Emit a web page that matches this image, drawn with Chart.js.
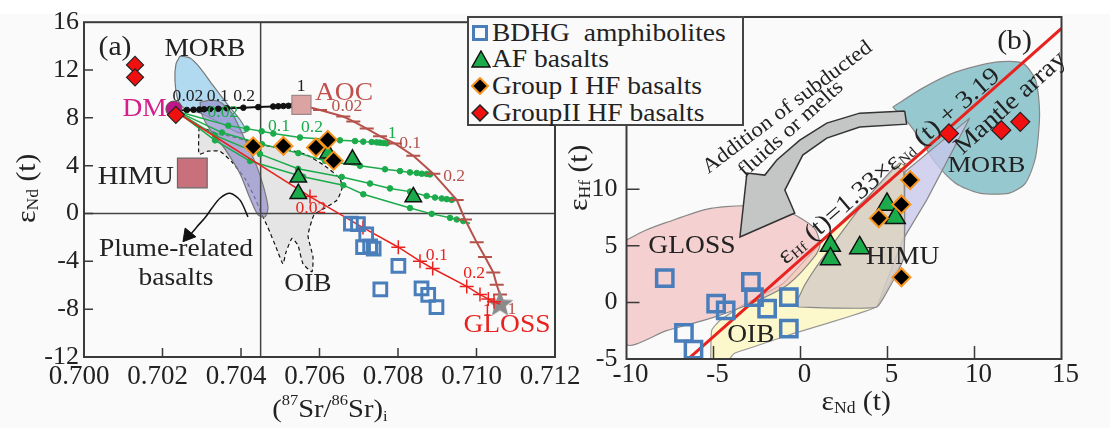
<!DOCTYPE html>
<html>
<head>
<meta charset="utf-8">
<script src="https://cdn.jsdelivr.net/npm/chart.js@4.4.1/dist/chart.umd.min.js"></script>
<style>
  html, body { margin: 0; padding: 0; background: #fff; }
  #fig { position: relative; width: 1110px; height: 428px; overflow: hidden; }
  #bg { position: absolute; left: 0; top: 14px; width: 1110px; height: 414px; background: #fafafa; }
  canvas { position: absolute; top: 0; }
  #chartA { left: 0; }
  #chartB { left: 560px; }
  #legend { position: absolute; left: 467px; top: 16px; width: 273px; height: 106px; border: 2px solid #444;
            background: #fafafa; font-family: 'Liberation Serif', 'DejaVu Serif', serif; font-size: 25px; color: #222; z-index: 5; }
  .row { position: absolute; left: 0; height: 27px; line-height: 27px; white-space: nowrap; }
  .row svg { position: absolute; left: 2px; top: 5px; }
  .row span { position: absolute; left: 23px; transform: scaleX(1.1); transform-origin: left center; }
</style>
</head>
<body>
<div id="fig">
  <div id="bg"></div>
  <canvas id="chartA" width="600" height="428"></canvas>
  <canvas id="chartB" width="550" height="428"></canvas>
  <div id="legend">
    <div class="row" style="top:1px"><svg width="18" height="18"><rect x="2.5" y="2.5" width="13" height="13" fill="none" stroke="#4a7ebb" stroke-width="3"/></svg><span>BDHG&nbsp; amphibolites</span></div>
    <div class="row" style="top:27px"><svg width="20" height="18"><polygon points="10,1 19,17 1,17" fill="#1bab4b" stroke="#111" stroke-width="1.5"/></svg><span>AF basalts</span></div>
    <div class="row" style="top:54px"><svg width="20" height="18"><polygon points="9,1 17,9 9,17 1,9" fill="#000" stroke="#f7941d" stroke-width="2"/></svg><span>Group I HF basalts</span></div>
    <div class="row" style="top:81px"><svg width="20" height="18"><polygon points="9,1 17,9 9,17 1,9" fill="#f01010" stroke="#222" stroke-width="1.5"/></svg><span>GroupII HF basalts</span></div>
  </div>
</div>
<script>
// ---------- panel (a): (87Sr/86Sr)i vs eNd(t) ----------
const srTicks = [0.700, 0.702, 0.704, 0.706, 0.708, 0.710, 0.712];
const ndTicksA = [-12, -8, -4, 0, 4, 8, 12, 16];

const bdhgSr = [0.70680, 0.70698, 0.70719, 0.70711, 0.70729, 0.70738, 0.70801, 0.70755, 0.70860, 0.70877, 0.70898];
const bdhgNdA = [-0.85, -0.89, -1.75, -2.82, -2.74, -2.94, -4.38, -6.35, -6.26, -6.80, -7.82];
const afSr = [0.70622, 0.70684, 0.70546, 0.70546, 0.70839];
const afNdA = [5.05, 4.53, 3.03, 1.66, 1.39];
const g1Sr = [0.70431, 0.70508, 0.70591, 0.70621, 0.70636];
const g1NdA = [5.61, 5.65, 5.52, 6.16, 4.42];
const g2Sr = [0.70130, 0.70130, 0.70234];
const g2NdA = [12.43, 11.39, 8.25];

const dmSr = [0.70229], dmNd = [8.74];
const aocSr = [0.70554], aocNd = [9.09];
const glossSr = [0.71060], glossNd = [-7.60];
const himuSr = [0.70276], himuNd = [3.39];

// DM - AOC mixing (black)
const mixAocSr = [0.70234, 0.70262, 0.70279, 0.70294, 0.70306, 0.70321, 0.70342, 0.70364, 0.70406, 0.70444, 0.70482, 0.70495, 0.70508, 0.70521, 0.70533, 0.70545, 0.70553];
const mixAocNd = [8.60, 8.66, 8.68, 8.70, 8.72, 8.74, 8.76, 8.80, 8.85, 8.90, 8.95, 8.97, 8.99, 9.01, 9.03, 9.05, 9.07];
// DM - GLOSS mixing (red)
const mixGlossSr = [0.702344, 0.705758, 0.707108, 0.708008, 0.708561, 0.708884, 0.709751, 0.710089, 0.710301, 0.710446, 0.710599];
const mixGlossNd = [8.49, 1.42, -1.18, -2.82, -3.99, -4.60, -6.10, -6.78, -7.14, -7.37, -7.60];
// AOC - GLOSS mixing (brown)
const aocGlossSr = [0.705529, 0.706013, 0.706606, 0.706861, 0.707203, 0.707541, 0.707924, 0.708390, 0.708900, 0.709496, 0.709707, 0.710005, 0.710217, 0.710428, 0.710515, 0.710599, 0.710599];
const aocGlossNd = [9.07, 8.66, 8.11, 7.70, 7.10, 6.47, 5.85, 4.83, 3.33, 1.14, -0.50, -2.41, -3.64, -4.93, -5.96, -6.78, -7.60];
// DM - (AOC+GLOSS) mixing (green)
const green1Sr = [0.702344, 0.703676, 0.704145, 0.704527, 0.704823, 0.705503, 0.706522, 0.706904, 0.707116, 0.707330, 0.707457, 0.707541, 0.707626, 0.707712, 0.707840];
const green1Nd = [8.58, 7.35, 7.10, 6.88, 6.69, 6.36, 6.12, 6.06, 6.01, 5.98, 5.95, 5.93, 5.90, 5.87, 5.85];
const green2Sr = [0.702344, 0.703516, 0.704535, 0.705460, 0.706140, 0.707032, 0.707669, 0.708051, 0.708306, 0.708477, 0.708604, 0.708732, 0.708816, 0.708900];
const green2Nd = [8.58, 6.77, 5.79, 5.05, 4.42, 3.99, 3.70, 3.55, 3.44, 3.39, 3.33, 3.31, 3.27, 3.25];
const green3Sr = [0.702344, 0.703338, 0.704484, 0.705452, 0.706566, 0.707287, 0.707796, 0.708306, 0.708731, 0.708943, 0.709114, 0.709241, 0.709369, 0.709537];
const green3Nd = [8.58, 6.53, 4.97, 3.74, 3.06, 2.51, 2.10, 1.83, 1.47, 1.34, 1.26, 1.20, 1.14, 1.06];
const green4Sr = [0.702344, 0.703338, 0.704229, 0.705580, 0.706607, 0.707116, 0.708306, 0.708859, 0.709325, 0.709496, 0.709664, 0.709835];
const green4Nd = [8.58, 6.12, 4.39, 3.08, 2.37, 1.61, 0.46, -0.03, -0.36, -0.50, -0.63, -0.83];

// fields
const morbFieldSr = [0.702446, 0.702701, 0.702955, 0.703287, 0.703669, 0.703975, 0.704127, 0.703924, 0.703465, 0.702955, 0.702573, 0.702395, 0.702318, 0.702344, 0.702446];
const morbFieldNd = [13.17, 13.00, 12.18, 10.71, 9.07, 7.84, 6.85, 6.77, 7.59, 8.41, 8.74, 9.48, 11.12, 12.51, 13.17];
const plumeSr = [0.702955, 0.703261, 0.703516, 0.703796, 0.704153, 0.704408, 0.704586, 0.704688, 0.704612, 0.704433, 0.704229, 0.703975, 0.703592, 0.703210, 0.703006, 0.702955];
const plumeNd = [9.31, 9.48, 9.23, 8.25, 5.79, 3.90, 2.10, 0.46, -0.28, -0.11, 1.28, 3.33, 5.38, 7.02, 8.25, 9.31];
const oibFieldSr = [0.702930, 0.703338, 0.703847, 0.704484, 0.705121, 0.705631, 0.706140, 0.706522, 0.706573, 0.706446, 0.706140, 0.705860, 0.705707, 0.705834, 0.705809, 0.705580, 0.705452, 0.705299, 0.705147, 0.705070, 0.704892, 0.704688, 0.704535, 0.704357, 0.704102, 0.703771, 0.703465, 0.703159, 0.702930, 0.702930];
const oibFieldNd = [7.27, 6.77, 6.36, 5.79, 5.38, 4.97, 3.98, 2.92, 2.10, 1.12, 0.46, -0.11, -1.84, -3.64, -4.87, -4.21, -2.66, -2.08, -3.23, -4.21, -2.82, -1.18, -0.11, 1.28, 2.92, 4.31, 5.21, 5.21, 4.97, 7.27];
const plumeArrowSr = [0.704178, 0.703975, 0.703720, 0.703465, 0.703261, 0.703083, 0.702879, 0.702675];
const plumeArrowNd = [-0.28, 1.12, 1.69, 1.28, 0.46, -0.36, -1.10, -1.92];

// ---------- panel (b): eNd(t) vs eHf(t) ----------
const ndTicksB = [-10, -5, 0, 5, 10, 15];
const hfTicksB = [-5, 0, 5, 10];

const bdhgNdB = [-7.80, -2.85, -4.85, -4.30, -2.67, -1.92, -0.67, -0.67, -6.70, -6.15];
const bdhgHf = [2.15, 1.80, -0.12, -0.70, 0.47, -0.55, 0.47, -2.32, -2.70, -4.17];
const afNdB = [1.72, 1.72, 3.40, 4.97, 5.45];
const afHf = [5.02, 3.84, 4.81, 8.65, 7.47];
const g1NdB = [6.30, 5.80, 4.50, 5.80];
const g1Hf = [10.80, 8.65, 7.43, 2.22];
const g2NdB = [8.53, 11.54, 12.63];
const g2Hf = [14.92, 15.21, 15.94];

const arrayNd = [-6.6, 15.0];
const arrayHf = [-5.2, 24.2];

const morbNdB = [5.30, 7.02, 8.91, 11.21, 12.76, 13.51, 13.74, 13.51, 12.93, 12.01, 10.29, 8.91, 7.77, 7.02, 6.16, 5.30];
const morbHfB = [17.24, 18.92, 20.33, 21.21, 21.13, 19.62, 16.71, 12.83, 10.53, 9.65, 9.65, 10.53, 12.30, 14.06, 15.92, 17.24];
const lavNd = [9.72, 5.99, 5.93, 4.38, 5.87, 7.25, 9.72];
const lavHf = [16.27, 11.50, 3.91, -0.41, 5.50, 9.03, 16.27];
const himuNdB = [-0.16, 4.38, 5.93, 5.93, 5.47, 3.98, 2.54, 1.10, 0.24, -0.16, -0.16];
const himuHfB = [-0.41, -0.41, 3.91, 11.50, 12.03, 9.47, 6.56, 3.56, 1.53, 0.21, -0.41];
const oibNdB = [-5.16, -5.10, -4.60, -3.20, -1.04, 0.40, 2.01, 3.63, 4.71, 5.70, 6.00, 5.93, 4.88, 4.40, 1.53, -0.38, -2.68, -3.82, -4.21, -5.16];
const oibHfB = [-5.20, -2.45, -1.56, -0.15, 1.62, 3.97, 6.62, 8.97, 10.60, 12.30, 12.00, 4.63, 0.80, -0.38, -1.86, -2.74, -3.92, -4.51, -5.20, -5.20];
const glossNdB = [-10.0, -9.0, -7.70, -5.36, -3.20, -0.86, 0.76, 1.12, 0.85, -0.68, -2.48, -5.00, -7.70, -10.0, -10.0];
const glossHfB = [5.50, 6.30, 7.06, 8.24, 8.53, 8.09, 6.62, 5.15, 4.12, 1.62, 0.15, -1.32, -2.50, -3.68, 5.50];
const fluxArrowNd = [5.99, 3.40, 1.51, -0.04, -1.36, -2.05, -3.08, -3.48, -0.33, -0.90, 0.13, 1.51, 3.40, 6.10, 5.99];
const fluxArrowHf = [16.89, 16.71, 15.83, 14.33, 12.57, 11.24, 11.42, 5.77, 7.89, 9.92, 13.01, 14.51, 15.48, 15.74, 16.89];

// ---------- styling helpers ----------
const SERIF = "'Liberation Serif', 'DejaVu Serif', serif";
const INK = '#222';
const SX = 1.1;
const BLUE = '#4a7ebb', GREEN = '#1bab4b', ORANGE = '#f7941d', RED = '#f01010';
const BROWN = '#b5524c', LINE_RED = '#e8231f', MAGENTA = '#d4208b';

Chart.defaults.font.family = SERIF;
Chart.defaults.color = INK;

function xy(xs, ys) { return xs.map((v, i) => ({ x: v, y: ys[i] })); }

function drawRich(ctx, parts, x, y, o) {
  ctx.save();
  ctx.translate(x, y);
  if (o.rot) ctx.rotate(o.rot * Math.PI / 180);
  ctx.scale(o.sx || SX, 1);
  ctx.textBaseline = 'middle';
  ctx.textAlign = 'left';
  ctx.fillStyle = o.color || INK;
  let w = 0;
  parts.forEach(p => { ctx.font = p[1] + 'px ' + SERIF; w += ctx.measureText(p[0]).width; });
  let cx = o.align === 'left' ? 0 : (o.align === 'right' ? -w : -w / 2);
  parts.forEach(p => {
    ctx.font = p[1] + 'px ' + SERIF;
    ctx.fillText(p[0], cx, p[2] || 0);
    cx += ctx.measureText(p[0]).width;
  });
  ctx.restore();
}

// frame, inward ticks, tick labels, annotations and axis titles
function makeExtras(cfg) {
  return {
    id: 'extras',
    afterDatasetsDraw(chart) {
      const ctx = chart.ctx, a = chart.chartArea, sx = chart.scales.x, sy = chart.scales.y;
      ctx.save();
      ctx.strokeStyle = '#3a3a3a';
      ctx.lineWidth = 1.5;
      ctx.beginPath();
      sx.ticks.forEach(t => {
        if (t.value <= sx.min || t.value >= sx.max) return;
        const p = sx.getPixelForValue(t.value);
        ctx.moveTo(p, a.bottom); ctx.lineTo(p, a.bottom - cfg.tick);
      });
      sy.ticks.forEach(t => {
        if (t.value <= sy.min || t.value >= sy.max) return;
        const p = sy.getPixelForValue(t.value);
        ctx.moveTo(a.left, p); ctx.lineTo(a.left + cfg.tick, p);
      });
      ctx.stroke();
      ctx.lineWidth = 2;
      ctx.strokeRect(a.left, a.top, a.width, a.height);
      sx.ticks.forEach(t => drawRich(ctx, [[cfg.fmtX(t.value), 27, 0]],
        sx.getPixelForValue(t.value) + cfg.xLab.dx, a.bottom + cfg.xLab.dy, { sx: 1 }));
      sy.ticks.forEach(t => drawRich(ctx, [[String(t.value), 26, 0]],
        a.left - cfg.yLab, sy.getPixelForValue(t.value), { sx: 1, align: 'right' }));
      cfg.labels.forEach(l => {
        const parts = l.parts || [[l.t, l.size || 25, 0]];
        drawRich(ctx, parts, sx.getPixelForValue(l.x), sy.getPixelForValue(l.y), l);
      });
      cfg.titles.forEach(l => {
        if (l.kind === 'x') drawRich(ctx, l.parts, a.left + l.f * a.width, a.bottom + l.off, l);
        else drawRich(ctx, l.parts, a.left - l.off, a.top + l.f * a.height, Object.assign({ rot: -90 }, l));
      });
      ctx.restore();
    }
  };
}

function pointSet(data, style, r, fill, stroke, bw, order, rot) {
  return { data, showLine: false, pointStyle: style, pointRadius: r, pointBackgroundColor: fill,
           pointBorderColor: stroke, pointBorderWidth: bw, pointRotation: rot || 0, order };
}
function lineSet(data, color, width, markers, order) {
  const last = data.length - 1;
  return { data, showLine: true, borderColor: color, borderWidth: width, tension: 0, order,
    pointRadius: c => (c.dataIndex === 0 || c.dataIndex === last) ? 0 : markers.r,
    pointStyle: markers.style, pointBackgroundColor: markers.fill || color,
    pointBorderColor: markers.stroke || color, pointBorderWidth: markers.bw || 1 };
}
function fieldSet(data, fill, stroke, order, extra) {
  return Object.assign({ data, showLine: true, fill: 'shape', backgroundColor: fill, borderColor: stroke,
                         borderWidth: 1.2, pointRadius: 0, tension: 0.25, order }, extra || {});
}

// star image for GLOSS end-member
const star = document.createElement('canvas');
star.width = 30; star.height = 30;
(function () {
  const c = star.getContext('2d');
  c.beginPath();
  for (let i = 0; i < 10; i++) {
    const r = i % 2 ? 6 : 14, ang = -Math.PI / 2 + i * Math.PI / 5;
    c.lineTo(15 + r * Math.cos(ang), 15 + r * Math.sin(ang));
  }
  c.closePath();
  c.fillStyle = '#8a8a8a';
  c.fill();
})();

function axis(min, max, ticks, size, isX) {
  return {
    type: 'linear', min, max,
    afterBuildTicks: s => { s.ticks = ticks.map(v => ({ value: v })); },
    afterFit: s => {
      if (isX) { s.height = size; s.paddingLeft = 0; s.paddingRight = 0; }
      else { s.width = size; s.paddingTop = 0; s.paddingBottom = 0; }
    },
    grid: { display: false, drawTicks: false },
    border: { display: false },
    ticks: { display: false }
  };
}

// ---------- chart (a) ----------
const labelsA = [
  { t: '(a)', x: 0.70079, y: 13.83, size: 27 },
  { t: 'MORB', x: 0.70308, y: 13.74, size: 25 },
  { t: 'DM', x: 0.70211, y: 8.74, size: 25, color: MAGENTA, align: 'right' },
  { t: 'HIMU', x: 0.70132, y: 3.08, size: 26 },
  { t: 'AOC', x: 0.705885, y: 10.05, size: 25, color: '#c0504d', align: 'left' },
  { t: 'OIB', x: 0.705707, y: -5.94, size: 25 },
  { t: 'GLOSS', x: 0.710777, y: -9.39, size: 25, color: LINE_RED },
  { t: 'Plume-related', x: 0.702344, y: -2.98, size: 25 },
  { t: 'basalts', x: 0.702344, y: -5.44, size: 25 },
  { t: '0.02', x: 0.70265, y: 9.72, size: 16 },
  { t: '0.1', x: 0.70341, y: 9.72, size: 16 },
  { t: '0.2', x: 0.70408, y: 9.72, size: 16 },
  { t: '1', x: 0.70553, y: 10.63, size: 16 },
  { t: '0.02', x: 0.70354, y: 8.41, size: 16, color: GREEN },
  { t: '0.1', x: 0.70497, y: 7.26, size: 16, color: GREEN },
  { t: '0.2', x: 0.70581, y: 7.18, size: 16, color: GREEN },
  { t: '1', x: 0.70785, y: 6.69, size: 16, color: GREEN },
  { t: '0.02', x: 0.70670, y: 8.90, size: 16, color: BROWN },
  { t: '0.1', x: 0.70831, y: 5.79, size: 16, color: BROWN },
  { t: '0.2', x: 0.70943, y: 3.08, size: 16, color: BROWN },
  { t: '1', x: 0.71090, y: -8.07, size: 16, color: BROWN },
  { t: '0.02', x: 0.70578, y: 0.38, size: 16, color: LINE_RED },
  { t: '0.1', x: 0.70899, y: -3.56, size: 16, color: LINE_RED },
  { t: '0.2', x: 0.70994, y: -5.03, size: 16, color: LINE_RED },
  { t: '1', x: 0.71027, y: -8.15, size: 16, color: LINE_RED }
];
const titlesA = [
  { kind: 'x', f: 0.522, off: 53, parts: [['(', 26], ['87', 15, -9], ['Sr/', 26], ['86', 15, -9], ['Sr)', 26], ['i', 15, 7]] },
  { kind: 'y', f: 0.496, off: 56, parts: [['\u03b5', 27], ['Nd', 16, 6], [' (t)', 27]] }
];

const greenMark = { r: 2.8, style: 'circle' };
new Chart(document.getElementById('chartA'), {
  type: 'scatter',
  data: {
    datasets: [
      pointSet(xy(g2Sr, g2NdA), 'rectRot', 8.5, RED, '#222', 1.2, 0),
      pointSet(xy(g1Sr, g1NdA), 'rectRot', 9, '#000', ORANGE, 2, 1),
      pointSet(xy(afSr, afNdA), 'triangle', 9.5, GREEN, '#111', 1.5, 2),
      pointSet(xy(bdhgSr, bdhgNdA), 'rect', 9, 'rgba(0,0,0,0)', BLUE, 3, 3),
      pointSet(xy(dmSr, dmNd), 'circle', 8, '#c0168a', '#555', 1, 4),
      pointSet(xy(glossSr, glossNd), star, 14, '#888', '#888', 0, 6),
      pointSet(xy(aocSr, aocNd), 'rect', 13.5, '#dca3a3', '#a08888', 1.2, 6),
      pointSet(xy(himuSr, himuNd), 'rect', 21, '#c9707d', '#666', 1.2, 7),
      lineSet(xy(mixGlossSr, mixGlossNd), LINE_RED, 1.5, { r: 7, style: 'cross', bw: 1.5 }, 5),
      lineSet(xy(aocGlossSr, aocGlossNd), BROWN, 2, { r: 7, style: 'line', bw: 2 }, 8),
      lineSet(xy(green1Sr, green1Nd), GREEN, 1.5, greenMark, 9),
      lineSet(xy(green2Sr, green2Nd), GREEN, 1.5, greenMark, 9),
      lineSet(xy(green3Sr, green3Nd), GREEN, 1.5, greenMark, 9),
      lineSet(xy(green4Sr, green4Nd), GREEN, 1.5, greenMark, 9),
      lineSet(xy(mixAocSr, mixAocNd), '#111', 2, { r: 2.8, style: 'circle' }, 9),
      { data: xy(plumeArrowSr, plumeArrowNd), showLine: true, borderColor: '#111', borderWidth: 1.5,
        pointRadius: 0, tension: 0.3, order: 10 },
      pointSet(xy([0.70265], [-1.84]), 'triangle', 8, '#111', '#111', 1, 10, 219),
      { data: xy([0.7045, 0.7045], [-12, 16]), showLine: true, borderColor: '#444', borderWidth: 1.5, pointRadius: 0, order: 19 },
      { data: xy([0.700, 0.712], [0, 0]), showLine: true, borderColor: '#444', borderWidth: 1.5, pointRadius: 0, order: 19 },
      fieldSet(xy(plumeSr, plumeNd), 'rgba(150,145,205,0.72)', '#777', 20),
      fieldSet(xy(morbFieldSr, morbFieldNd), 'rgba(168,214,240,0.9)', '#777', 21),
      fieldSet(xy(oibFieldSr, oibFieldNd), 'rgba(222,222,222,0.75)', '#111', 22, { borderDash: [4, 3], tension: 0.15 })
    ]
  },
  options: {
    responsive: false, animation: false, events: [],
    layout: { padding: { left: 0, right: 45, top: 15.5, bottom: 0 } },
    scales: {
      x: axis(0.700, 0.712, srTicks, 71, true),
      y: axis(-12, 16, ndTicksA, 84, false)
    },
    plugins: { legend: { display: false }, tooltip: { enabled: false } }
  },
  plugins: [makeExtras({ tick: 9, labels: labelsA, titles: titlesA,
    fmtX: v => v.toFixed(3), xLab: { dx: -5, dy: 20 }, yLab: 5 })]
});

// ---------- chart (b) ----------
const eqParts = [['\u03b5', 25], ['Hf', 14, 5], [' (t)=1.33\u00d7', 25], ['\u03b5', 25], ['Nd', 14, 5], [' (t) + 3.19', 25]];
const labelsB = [
  { t: '(b)', x: 12.30, y: 22.98, size: 27 },
  { t: 'MORB', x: 10.69, y: 12.03, size: 24 },
  { t: 'HIMU', x: 5.87, y: 4.00, size: 25 },
  { t: 'GLOSS', x: -6.24, y: 4.97, size: 25 },
  { t: 'OIB', x: -2.85, y: -2.88, size: 25 },
  { t: 'Mantle array', x: 12.07, y: 17.59, size: 25, rot: -42 },
  { parts: eqParts, x: 5.1, y: 12.0, rot: -41, sx: 1.12 },
  { t: 'Addition of subducted', x: -0.75, y: 17.2, size: 21, rot: -37 },
  { t: 'fluids or melts', x: -0.55, y: 15.3, size: 21, rot: -42 }
];
const titlesB = [
  { kind: 'x', f: 0.528, off: 44, parts: [['\u03b5', 27], ['Nd', 16, 6], [' (t)', 27]] },
  { kind: 'y', f: 0.47, off: 47, parts: [['\u03b5', 27], ['Hf', 16, 6], [' (t)', 27]] }
];

new Chart(document.getElementById('chartB'), {
  type: 'scatter',
  data: {
    datasets: [
      pointSet(xy(g2NdB, g2Hf), 'rectRot', 9.5, RED, '#222', 1.2, 0),
      pointSet(xy(g1NdB, g1Hf), 'rectRot', 9, '#000', ORANGE, 2, 1),
      pointSet(xy(afNdB, afHf), 'triangle', 11.5, GREEN, '#111', 1.5, 2),
      pointSet(xy(bdhgNdB, bdhgHf), 'rect', 11.5, 'rgba(0,0,0,0)', BLUE, 3.5, 3),
      { data: xy(arrayNd, arrayHf), showLine: true, borderColor: LINE_RED, borderWidth: 3, pointRadius: 0, order: 5 },
      fieldSet(xy(fluxArrowNd, fluxArrowHf), '#c3c6c4', '#333', 8, { tension: 0, borderWidth: 1.5 }),
      fieldSet(xy(glossNdB, glossHfB), 'rgba(240,182,182,0.62)', '#888', 14),
      fieldSet(xy(himuNdB, himuHfB), 'rgba(214,206,198,0.85)', '#888', 15, { tension: 0.1 }),
      fieldSet(xy(lavNd, lavHf), 'rgba(200,200,236,0.78)', '#888', 16, { tension: 0 }),
      fieldSet(xy(morbNdB, morbHfB), 'rgba(135,192,202,0.88)', '#888', 17),
      fieldSet(xy(oibNdB, oibHfB), 'rgba(252,248,200,0.95)', '#999', 18, { tension: 0.15 })
    ]
  },
  options: {
    responsive: false, animation: false, events: [],
    layout: { padding: { left: 0, right: 48.5, top: 17, bottom: 0 } },
    scales: {
      x: axis(-10, 15, ndTicksB, 69, true),
      y: axis(-5, 25.2, hfTicksB, 66.5, false)
    },
    plugins: { legend: { display: false }, tooltip: { enabled: false } }
  },
  plugins: [makeExtras({ tick: 13, labels: labelsB, titles: titlesB,
    fmtX: v => String(v), xLab: { dx: 4, dy: 16 }, yLab: 9 })]
});
</script>
</body>
</html>
